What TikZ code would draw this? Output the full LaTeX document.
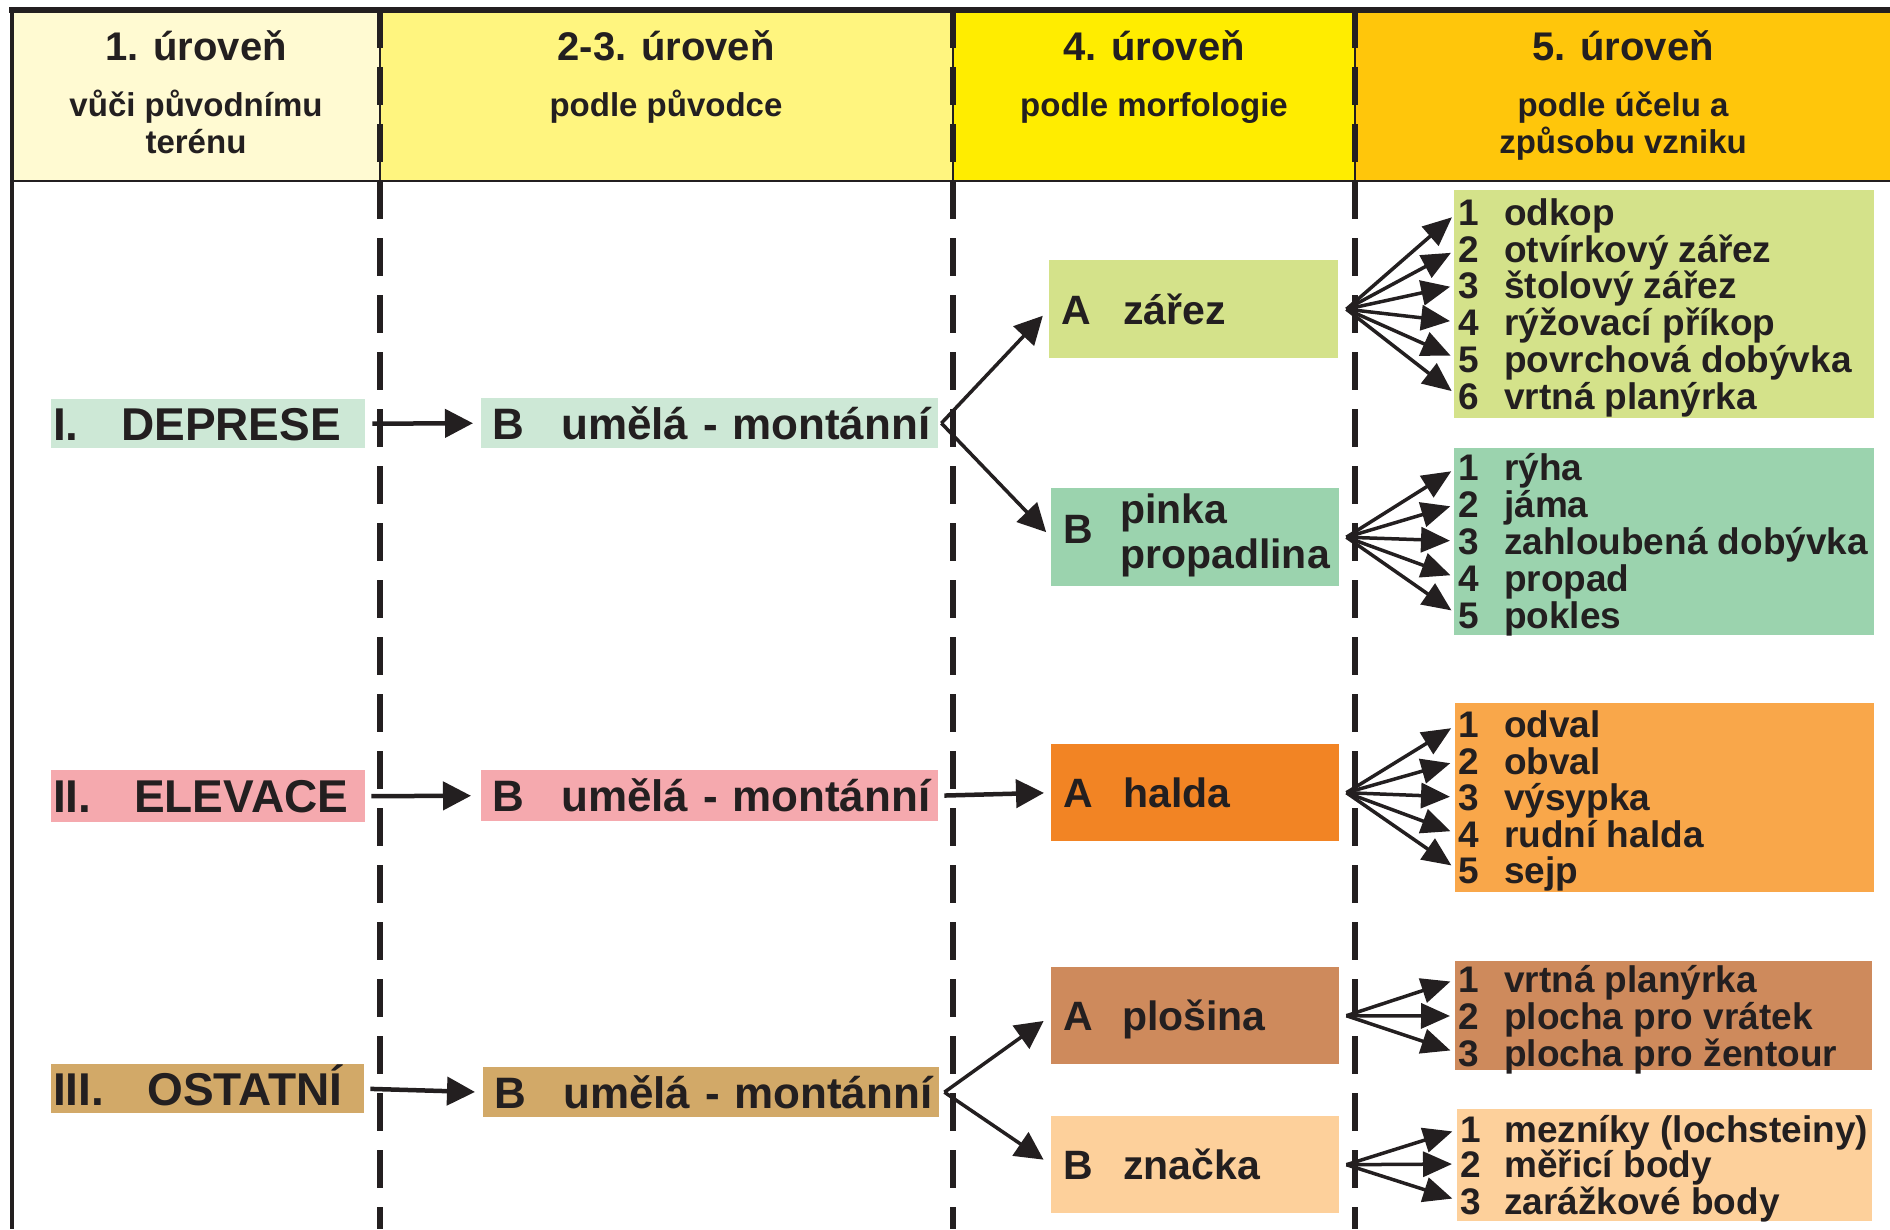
\documentclass[tikz,border=0pt]{standalone}
\usepackage{fontspec}
\setmainfont{Liberation Sans}
\usetikzlibrary{arrows.meta}
\tikzset {>={Triangle[length=28pt,width=28pt]}}

\definecolor{ink}{HTML}{231F20}
\definecolor{headA}{HTML}{FFFAD2}
\definecolor{headB}{HTML}{FFF57F}
\definecolor{headC}{HTML}{FFED00}
\definecolor{headD}{HTML}{FFC60B}
\definecolor{depres}{HTML}{CDE8D6}
\definecolor{zarezc}{HTML}{D4E28A}
\definecolor{pinkac}{HTML}{9BD3AE}
\definecolor{elev}{HTML}{F5A9AE}
\definecolor{haldac}{HTML}{F28424}
\definecolor{haldal}{HTML}{F9A74A}
\definecolor{ostat}{HTML}{D2A968}
\definecolor{plosc}{HTML}{CE8A5C}
\definecolor{znacc}{HTML}{FDD09B}

\newcommand\fsz[1]{\bfseries\fontsize{#1}{#1}\selectfont}

\tikzset{
  cell/.style={fill=#1, draw=none, anchor=north west, inner xsep=2pt, inner ysep=0pt, align=left, text=ink},
  rowlbl/.style={font=\fsz{46}, text height=33pt, text depth=0pt},
  orig/.style={font=\fsz{44}, text height=32pt, text depth=0pt, inner xsep=11pt},
  morf/.style={font=\bfseries\fontsize{41}{45}\selectfont, inner xsep=12pt},
  item/.style={anchor=west, inner sep=0pt, font=\fsz{37}, text=ink, text height=26pt, text depth=0pt},
  title/.style={anchor=base, inner sep=0pt, font=\fsz{40}, text=ink},
  subtitle/.style={anchor=base, inner sep=0pt, align=center, font=\bfseries\fontsize{33}{37}\selectfont, text=ink},
  link/.style={->, line width=4.5pt, ink},
  fan/.style={->, >={Triangle[length=29pt,width=25pt]}, line width=3.5pt, ink, shorten >=8pt},
  sep/.style={line width=5.5pt, ink, dash pattern=on 38pt off 19pt},
}

\begin{document}
\begin{tikzpicture}[x=1pt,y=-1pt]
\useasboundingbox (0,0) rectangle (1890,1229);

% header
\fill[headA] (12,10) rectangle (380,181);
\fill[headB] (380,10) rectangle (953,181);
\fill[headC] (953,10) rectangle (1355,181);
\fill[headD] (1355,10) rectangle (1890,181);

\node[title] (t1) at (196,60) {1. úroveň};
\node[title] (t2) at (666,60) {2-3. úroveň};
\node[title] (t3) at (1154,60) {4. úroveň};
\node[title] (t4) at (1623,60) {5. úroveň};
% multi-line nodes sit on their last line
\node[subtitle] (s1) at (196,153) {vůči původnímu\\terénu};
\node[subtitle] (s2) at (666,116) {podle původce};
\node[subtitle] (s3) at (1154,116) {podle morfologie};
\node[subtitle] (s4) at (1623,153) {podle účelu a\\způsobu vzniku};

% frame
\draw[ink,line width=6pt] (9,10) -- (1890,10);
\draw[ink,line width=2pt] (12,181) -- (1890,181);
\draw[ink,line width=3.5pt] (12,10) -- (12,1229);
\foreach \x in {380,953,1355} {
  \draw[ink,line width=1.5pt] (\x,10) -- (\x,181);
  \draw[sep] (\x,10) -- (\x,1229);
}

% 1.-3. level
\node[cell=depres, rowlbl, minimum width=314pt, minimum height=49pt, text width=310pt] (dep) at (51,399) {\makebox[68pt][l]{I.}DEPRESE};
\node[cell=elev, rowlbl, minimum width=314pt, minimum height=52pt, text width=310pt] (ele) at (51,770) {\makebox[81pt][l]{II.}ELEVACE};
\node[cell=ostat, rowlbl, minimum width=313pt, minimum height=49pt, text width=309pt] (ost) at (51,1064) {\makebox[94pt][l]{III.}OSTATNÍ};

\node[cell=depres, orig, minimum width=457pt, minimum height=50pt, text width=435pt] (depB) at (481,398) {\mbox{\makebox[69pt][l]{B}umělá - montánní}};
\node[cell=elev, orig, minimum width=457pt, minimum height=51pt, text width=435pt] (eleB) at (481,770) {\mbox{\makebox[69pt][l]{B}umělá - montánní}};
\node[cell=ostat, orig, minimum width=456pt, minimum height=50pt, text width=434pt] (ostB) at (483,1067) {\mbox{\makebox[69pt][l]{B}umělá - montánní}};

% 4. level
\node[cell=zarezc, morf, text height=30pt, text depth=0pt, minimum width=289pt, minimum height=98pt, text width=265pt] (zarez) at (1049,260) {\makebox[62pt][l]{A}zářez};
\node[cell=pinkac, morf, minimum width=288pt, minimum height=98pt, text width=264pt] (pinka) at (1051,488) {\makebox[57pt][l]{B}\begin{tabular}{@{}l@{}}pinka\\propadlina\end{tabular}};
\node[cell=haldac, morf, text height=30pt, text depth=0pt, minimum width=288pt, minimum height=97pt, text width=264pt] (halda) at (1051,744) {\makebox[60pt][l]{A}halda};
\node[cell=plosc, morf, text height=30pt, text depth=0pt, minimum width=288pt, minimum height=97pt, text width=264pt] (plosina) at (1051,967) {\makebox[59pt][l]{A}plošina};
\node[cell=znacc, morf, text height=30pt, text depth=0pt, minimum width=288pt, minimum height=97pt, text width=264pt] (znacka) at (1051,1116) {\makebox[60pt][l]{B}značka};

% 5. level
\node[cell=zarezc, minimum width=420pt, minimum height=228pt] (zalist) at (1454,190) {};
\node[cell=pinkac, minimum width=420pt, minimum height=187pt] (pilist) at (1454,448) {};
\node[cell=haldal, minimum width=419pt, minimum height=189pt] (halist) at (1455,703) {};
\node[cell=plosc, minimum width=417pt, minimum height=109pt] (pllist) at (1455,961) {};
\node[cell=znacc, minimum width=415pt, minimum height=112pt] (znlist) at (1457,1109) {};

\foreach \n/\y/\txt in {1/212/odkop, 2/249/otvírkový zářez, 3/285/štolový zářez, 4/322/rýžovací příkop, 5/359/povrchová dobývka, 6/396/vrtná planýrka}
  \node[item] (za\n) at (1458,\y) {\makebox[46pt][l]{\n}\txt};
\foreach \n/\y/\txt in {1/467/rýha, 2/504/jáma, 3/541/zahloubená dobývka, 4/578/propad, 5/615/pokles}
  \node[item] (pi\n) at (1458,\y) {\makebox[46pt][l]{\n}\txt};
\foreach \n/\y/\txt in {1/724/odval, 2/761/obval, 3/797/výsypka, 4/834/rudní halda, 5/870/sejp}
  \node[item] (ha\n) at (1458,\y) {\makebox[46pt][l]{\n}\txt};
\foreach \n/\y/\txt in {1/979/vrtná planýrka, 2/1016/plocha pro vrátek, 3/1053/plocha pro žentour}
  \node[item] (pl\n) at (1458,\y) {\makebox[46pt][l]{\n}\txt};
\foreach \n/\y/\txt in {1/1129/mezníky (lochsteiny), 2/1164/měřicí body, 3/1201/zarážkové body}
  \node[item] (zn\n) at (1460,\y) {\makebox[44pt][l]{\n}\txt};

% arrows
\draw[link, shorten <=7pt, shorten >=8pt] (dep.east) -- (depB.west);
\draw[link, shorten <=6pt, shorten >=10pt] (ele.east) -- (eleB.west);
\draw[link, shorten <=6pt, shorten >=8pt] (ost.east) -- (ostB.west);

\draw[link, line width=3.5pt, shorten >=9pt] ([xshift=3pt]depB.east) -- (zarez.west);
\draw[link, line width=3.5pt, shorten >=7pt] ([xshift=3pt]depB.east) -- (pinka.west);
\draw[link, shorten <=6pt, shorten >=7pt] (eleB.east) -- (halda.west);
\draw[link, line width=3.5pt, shorten >=9pt] ([xshift=5pt]ostB.east) -- (plosina.west);
\draw[link, line width=3.5pt, shorten >=9pt] ([xshift=5pt]ostB.east) -- (znacka.west);

\foreach \n in {1,...,6}
  \draw[fan] ([xshift=8pt]zarez.east) -- (za\n.west);
\foreach \n in {1,...,5} {
  \draw[fan] ([xshift=7pt]pinka.east) -- (pi\n.west);
  \draw[fan] ([xshift=7pt]halda.east) -- (ha\n.west);
}
\foreach \n in {1,2,3} {
  \draw[fan] ([xshift=7pt]plosina.east) -- (pl\n.west);
  \draw[fan] ([xshift=7pt]znacka.east) -- (zn\n.west);
}
\end{tikzpicture}
\end{document}
